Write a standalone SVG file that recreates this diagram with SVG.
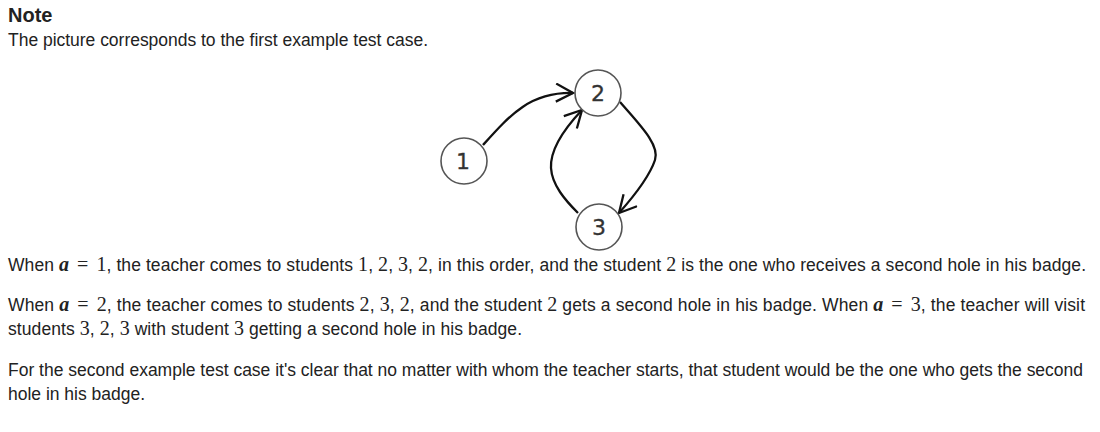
<svg xmlns="http://www.w3.org/2000/svg" width="1100" height="432" viewBox="0 0 1100 432">
<style>
.t{font-family:"Liberation Sans",Arial,sans-serif;font-size:17.5px;fill:#222}
.m{font-family:"Liberation Serif","Times New Roman",serif;font-size:20px}
.mi{font-style:italic;font-weight:bold}
.h{font-family:"Liberation Sans",Arial,sans-serif;font-size:20px;font-weight:bold;fill:#222}
.node circle{fill:#fff;stroke:#555;stroke-width:1.6}
.node text{font-family:"DejaVu Sans",sans-serif;font-size:22px;fill:#333;text-anchor:middle;stroke:#333;stroke-width:0.3}
.edge{fill:none;stroke:#111;stroke-width:2.3}
</style>
<defs>
<marker id="arr" viewBox="0 0 20 20" refX="18" refY="10" markerWidth="20" markerHeight="20" markerUnits="userSpaceOnUse" orient="auto">
<path d="M1,1 L18,10 L1,19" fill="none" stroke="#111" stroke-width="2.3"/>
</marker>
</defs>
<rect width="1100" height="432" fill="#fff"/>
<text class="h" x="8" y="22">Note</text>
<text class="t" x="8" y="46" textLength="420">The picture corresponds to the first example test case.</text>
<g id="connectors">
<path class="edge" d="M483,145 C510,115 530,92 573,93" marker-end="url(#arr)"/>
<path class="edge" d="M620,102 C640,125 660,145 655,160 C650,175 635,195 619,213" marker-end="url(#arr)"/>
<path class="edge" d="M578,213 C565,200 552,185 551,168 C550,150 565,128 582,110" marker-end="url(#arr)"/>
</g>
<g id="node1" class="node"><circle cx="464" cy="161" r="23"/><text x="463" y="169">1</text></g>
<g id="node2" class="node"><circle cx="598" cy="93" r="23"/><text x="598" y="101">2</text></g>
<g id="node3" class="node"><circle cx="599" cy="227" r="23"/><text x="599" y="235">3</text></g>
<text class="t" x="8" y="271" textLength="1078">When <tspan class="m mi">a</tspan><tspan class="m" dx="8">=</tspan><tspan class="m" dx="8">1</tspan>, the teacher comes to students <tspan class="m">1</tspan>, <tspan class="m">2</tspan>, <tspan class="m">3</tspan>, <tspan class="m">2</tspan>, in this order, and the student <tspan class="m">2</tspan> is the one who receives a second hole in his badge.</text>
<text class="t" x="8" y="311" textLength="1077">When <tspan class="m mi">a</tspan><tspan class="m" dx="8">=</tspan><tspan class="m" dx="8">2</tspan>, the teacher comes to students <tspan class="m">2</tspan>, <tspan class="m">3</tspan>, <tspan class="m">2</tspan>, and the student <tspan class="m">2</tspan> gets a second hole in his badge. When <tspan class="m mi">a</tspan><tspan class="m" dx="8">=</tspan><tspan class="m" dx="8">3</tspan>, the teacher will visit</text>
<text class="t" x="8" y="335" textLength="514">students <tspan class="m">3</tspan>, <tspan class="m">2</tspan>, <tspan class="m">3</tspan> with student <tspan class="m">3</tspan> getting a second hole in his badge.</text>
<text class="t" x="8" y="376" textLength="1075">For the second example test case it's clear that no matter with whom the teacher starts, that student would be the one who gets the second</text>
<text class="t" x="8" y="400" textLength="137">hole in his badge.</text>
</svg>
